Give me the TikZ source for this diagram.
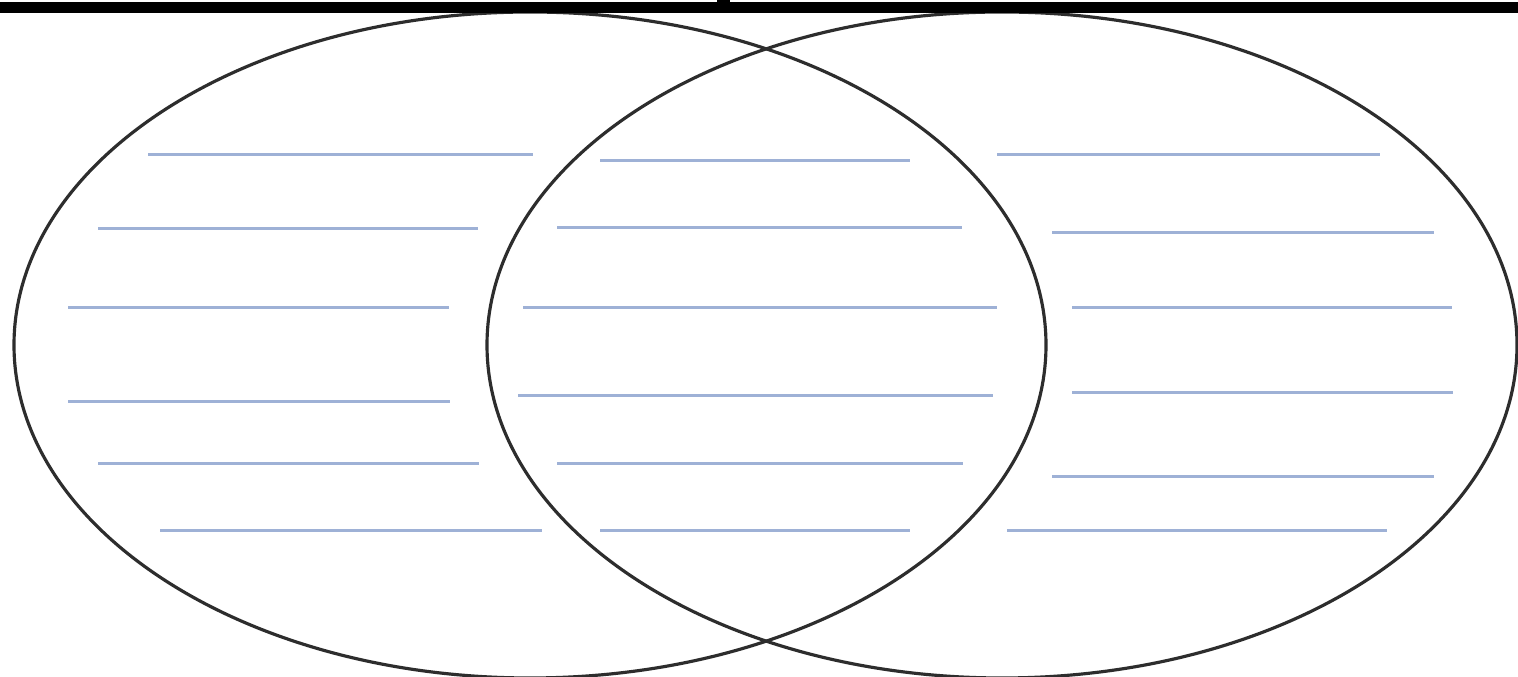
\documentclass[tikz,border=0pt]{standalone}
\definecolor{ruleblue}{RGB}{158,177,214}
\definecolor{ringgray}{RGB}{45,45,45}
\tikzset{
  ring/.style={draw=ringgray, line width=0.9pt},
  writeline/.style={draw=ruleblue, line width=0.85pt},
}
\begin{document}
\begin{tikzpicture}[x=0.01cm, y=-0.01cm]
\useasboundingbox (0,0) rectangle (1518,677);
\fill[white] (0,0) rectangle (1518,677);
% ellipses
\draw[ring] (530,345) ellipse [x radius=516, y radius=333];
\draw[ring] (1002,345) ellipse [x radius=515, y radius=333];
% top bar
\fill[black] (0,2.5) rectangle (1518,13.5);
\fill[black] (717,0) rectangle (730,3);
% left lines
\draw[writeline] (148,155) -- (533,155);
\draw[writeline] (98,229) -- (478,229);
\draw[writeline] (68,308) -- (449,308);
\draw[writeline] (68,402) -- (450,402);
\draw[writeline] (98,464) -- (479,464);
\draw[writeline] (160,531) -- (542,531);
% middle lines
\draw[writeline] (600,161) -- (910,161);
\draw[writeline] (557,228) -- (962,228);
\draw[writeline] (523,308) -- (997,308);
\draw[writeline] (518,396) -- (993,396);
\draw[writeline] (557,464) -- (963,464);
\draw[writeline] (600,531) -- (910,531);
% right lines
\draw[writeline] (997,155) -- (1380,155);
\draw[writeline] (1052,233) -- (1434,233);
\draw[writeline] (1072,308) -- (1452,308);
\draw[writeline] (1072,393) -- (1453,393);
\draw[writeline] (1052,477) -- (1434,477);
\draw[writeline] (1007,531) -- (1387,531);
\end{tikzpicture}
\end{document}
